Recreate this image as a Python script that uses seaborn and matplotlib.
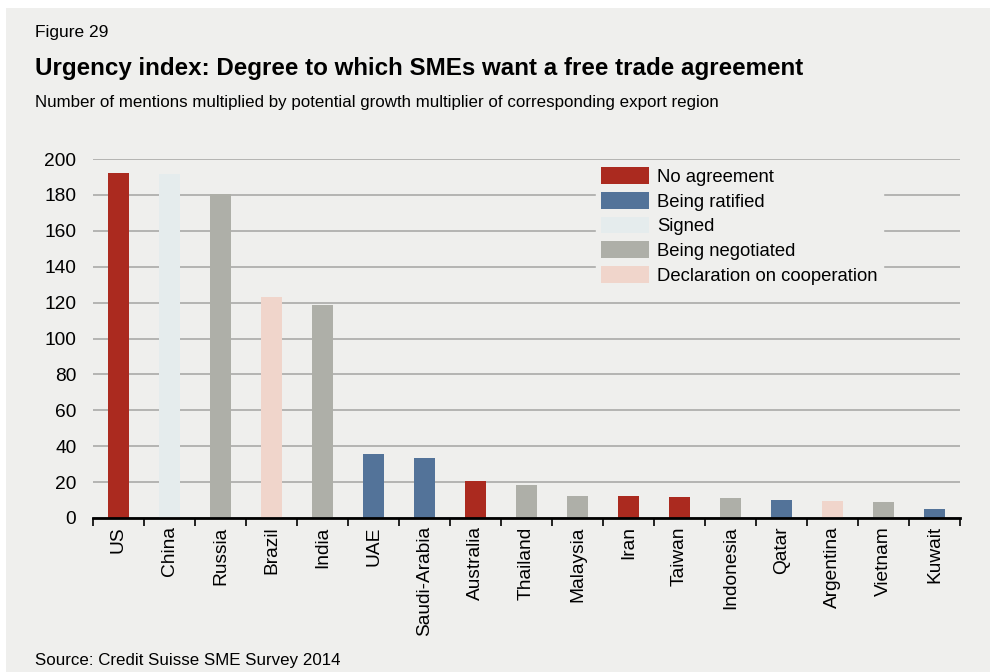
import matplotlib
matplotlib.use("Agg")
import matplotlib.pyplot as plt
import numpy as np
import pandas as pd
import seaborn as sns
from matplotlib.ticker import FixedLocator

countries = ["US", "China", "Russia", "Brazil", "India", "UAE", "Saudi-Arabia",
             "Australia", "Thailand", "Malaysia", "Iran", "Taiwan", "Indonesia",
             "Qatar", "Argentina", "Vietnam", "Kuwait"]
urgency = [192, 191.5, 180.5, 123, 118.5, 35.5, 33.5, 20.5, 18.2, 12.5, 12.4,
           11.8, 11.3, 10.2, 9.6, 9.0, 5.2]
status = ["No agreement", "Signed", "Being negotiated", "Declaration on cooperation",
          "Being negotiated", "Being ratified", "Being ratified", "No agreement",
          "Being negotiated", "Being negotiated", "No agreement", "No agreement",
          "Being negotiated", "Being ratified", "Declaration on cooperation",
          "Being negotiated", "Being ratified"]
status_order = ["No agreement", "Being ratified", "Signed", "Being negotiated",
                "Declaration on cooperation"]
status_colors = ["#ab2a1f", "#537399", "#e5eced", "#aeafa8", "#f0d5cb"]
y_ticks = [0, 20, 40, 60, 80, 100, 120, 140, 160, 180, 200]

bg = "#efefed"
df = pd.DataFrame({"country": countries, "urgency": urgency, "status": status})

sns.set_theme(style="white")
plt.rcParams["font.family"] = ["Liberation Sans", "DejaVu Sans"]
plt.rcParams["text.color"] = "black"

fig = plt.figure(figsize=(9.9, 6.72), dpi=100)
fig.patch.set_facecolor("white")
# grey panel behind everything
fig.add_artist(plt.Rectangle((6 / 990, 0), 1, 1 - 8 / 672, transform=fig.transFigure,
                             facecolor=bg, edgecolor="none", zorder=-10))

ax = fig.add_axes([93 / 990, 1 - 518 / 672, (960 - 93) / 990, (518 - 159) / 672])
ax.set_facecolor(bg)

sns.barplot(data=df, x="country", y="urgency", hue="status", order=countries,
            hue_order=status_order, palette=status_colors, dodge=False,
            width=0.41, saturation=1, linewidth=0, ax=ax, zorder=3)

ax.set_xlim(-0.5, len(countries) - 0.5)
ax.set_ylim(0, 200)
ax.set_yticks(y_ticks)
ax.set_yticklabels([str(v) for v in y_ticks], fontsize=13.8)
ax.yaxis.grid(True, color="#a4a4a2", linewidth=1.1, zorder=0)
ax.set_axisbelow(True)

ax.set_xlabel("")
ax.set_ylabel("")
ax.set_xticks(range(len(countries)))
ax.set_xticklabels(countries, rotation=90, fontsize=13.8)
ax.tick_params(axis="x", which="major", length=0, pad=6, colors="black")
ax.tick_params(axis="y", length=0, pad=12, colors="black")
ax.xaxis.set_minor_locator(FixedLocator(np.arange(-0.5, len(countries), 1.0)))
ax.tick_params(axis="x", which="minor", direction="out", length=6, width=1.2,
               color="black", bottom=True)

for side in ["left", "right", "top"]:
    ax.spines[side].set_visible(False)
ax.spines["bottom"].set_color("black")
ax.spines["bottom"].set_linewidth(2)
ax.spines["bottom"].set_zorder(5)

handles, labels = ax.get_legend_handles_labels()
leg = ax.legend(handles, labels, loc="upper left", bbox_to_anchor=(0.569, 1.018),
                frameon=True, fontsize=13.3, handlelength=2.6, handleheight=1.0,
                labelspacing=0.33, handletextpad=0.45, borderpad=0.3)
leg.get_frame().set_facecolor(bg)
leg.get_frame().set_edgecolor(bg)
leg.get_frame().set_alpha(1)
for t in leg.get_texts():
    t.set_color("black")

fig.text(35 / 990, 1 - 33 / 672, "Figure 29", fontsize=12.5, va="center", ha="left")
fig.text(35 / 990, 1 - 69 / 672,
         "Urgency index: Degree to which SMEs want a free trade agreement",
         fontsize=17.4, fontweight="bold", va="center", ha="left")
fig.text(35 / 990, 1 - 103 / 672,
         "Number of mentions multiplied by potential growth multiplier of corresponding export region",
         fontsize=12.2, va="center", ha="left")
fig.text(35 / 990, 1 - 661 / 672, "Source: Credit Suisse SME Survey 2014",
         fontsize=12.2, va="center", ha="left")

fig.savefig("out.png", dpi=100, facecolor="white")
